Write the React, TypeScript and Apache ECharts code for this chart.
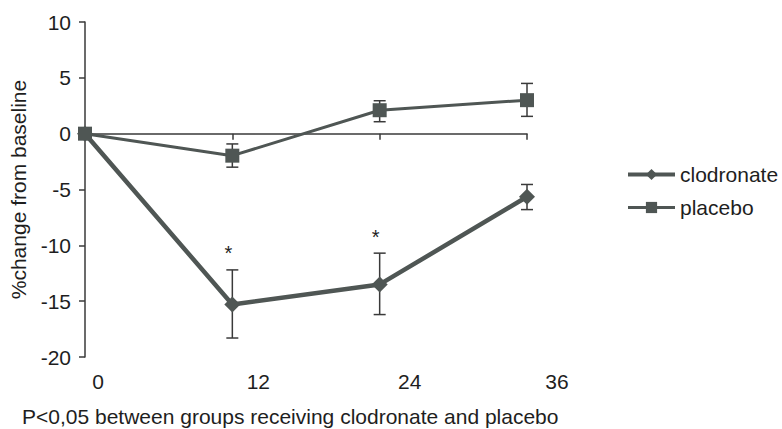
import React, { useEffect, useRef } from "react";
import * as echarts from "echarts";

const months = ["0", "12", "24", "36"];
const clodronate = [0, -15.3, -13.5, -5.65];
const clodronateHigh = [null, -12.2, -10.7, -4.55];
const clodronateLow = [null, -18.3, -16.2, -6.8];
const placebo = [0, -1.97, 2.1, 3.0];
const placeboHigh = [null, -0.92, 2.95, 4.5];
const placeboLow = [null, -3.0, 1.07, 1.55];
const asterisks = [
  [1, -10.4],
  [2, -8.95],
];
const yTicks = { min: -20, max: 10, interval: 5 };
const footnote = "P<0,05 between groups receiving clodronate and placebo";
const labelShift = [13, 26, 30, 30];

const MARK = "#4f5654";
const AXIS = "#3a3a3a";
const TEXT = "#1e1e1e";
const FONT = "Liberation Sans, Arial, sans-serif";

function errData(hi: (number | null)[], lo: (number | null)[]) {
  const out: number[][] = [];
  hi.forEach((h, i) => {
    const l = lo[i];
    if (h != null && l != null) out.push([i, l, h]);
  });
  return out;
}

function errRender(params: any, api: any) {
  const i = api.value(0);
  const lo = api.coord([i, api.value(1)]);
  const hi = api.coord([i, api.value(2)]);
  const hw = 6;
  const style = { stroke: AXIS, lineWidth: 1.5, fill: "none" };
  return {
    type: "group",
    children: [
      { type: "line", shape: { x1: hi[0], y1: hi[1], x2: lo[0], y2: lo[1] }, style },
      { type: "line", shape: { x1: hi[0] - hw, y1: hi[1], x2: hi[0] + hw, y2: hi[1] }, style },
      { type: "line", shape: { x1: lo[0] - hw, y1: lo[1], x2: lo[0] + hw, y2: lo[1] }, style },
    ],
  };
}

function starRender(params: any, api: any) {
  const p = api.coord([api.value(0), api.value(1)]);
  return {
    type: "text",
    x: p[0] - 4,
    y: p[1] + 3,
    style: {
      text: "*",
      fill: TEXT,
      font: `20px ${FONT}`,
      textAlign: "center",
      textVerticalAlign: "middle",
    },
  };
}

export default function App() {
  const ref = useRef<HTMLDivElement>(null);
  useEffect(() => {
    if (!ref.current) return;
    const chart = echarts.init(ref.current, undefined, { renderer: "svg" });
    const rich: any = {};
    labelShift.forEach((s, i) => {
      rich["l" + i] = {
        fontSize: 21,
        fontFamily: FONT,
        color: TEXT,
        padding: [0, 0, 0, s * 2],
      };
    });
    chart.setOption({
      animation: false,
      textStyle: { fontFamily: FONT },
      title: {
        text: footnote,
        left: 22,
        top: 405,
        padding: 0,
        textStyle: { fontSize: 21, fontWeight: "normal", color: TEXT, fontFamily: FONT, lineHeight: 22 },
      },
      legend: {
        orient: "vertical",
        left: 626,
        top: 164,
        padding: 0,
        itemWidth: 47,
        itemHeight: 14,
        itemGap: 12,
        textStyle: { fontSize: 21, color: TEXT, fontFamily: FONT },
        data: [
          { name: "clodronate", lineStyle: { width: 4, color: MARK }, itemStyle: { color: MARK } },
          { name: "placebo", lineStyle: { width: 3, color: MARK }, itemStyle: { color: MARK } },
        ],
      },
      grid: { left: 85, right: 255, top: 22, bottom: 72, outerBoundsMode: "none", containLabel: false },
      xAxis: [
        {
          type: "category",
          data: months,
          boundaryGap: false,
          axisLine: { onZero: true, lineStyle: { color: AXIS, width: 1.5 } },
          axisTick: { show: true, length: 6, lineStyle: { color: AXIS, width: 1.5 } },
          axisLabel: { show: false },
          splitLine: { show: false },
        },
        {
          type: "category",
          data: months,
          boundaryGap: false,
          position: "bottom",
          axisLine: { show: false, onZero: false },
          axisTick: { show: false },
          axisLabel: {
            margin: 14,
            formatter: (v: string, i: number) => `{l${i}|${v}}`,
            rich,
          },
          splitLine: { show: false },
        },
      ],
      yAxis: {
        type: "value",
        min: yTicks.min,
        max: yTicks.max,
        interval: yTicks.interval,
        name: "%change from baseline",
        nameLocation: "middle",
        nameRotate: 90,
        nameGap: 56,
        nameTextStyle: { fontSize: 21, color: TEXT, fontFamily: FONT },
        axisLine: { show: true, lineStyle: { color: AXIS, width: 1.5 } },
        axisTick: { show: true, length: 6, lineStyle: { color: AXIS, width: 1.5 } },
        axisLabel: { fontSize: 21, color: TEXT, margin: 14, fontFamily: FONT },
        splitLine: { show: false },
      },
      series: [
        {
          type: "custom",
          name: "clodErr",
          renderItem: errRender,
          data: errData(clodronateHigh, clodronateLow),
          z: 1,
          silent: true,
        },
        {
          type: "custom",
          name: "placErr",
          renderItem: errRender,
          data: errData(placeboHigh, placeboLow),
          z: 1,
          silent: true,
        },
        {
          type: "line",
          name: "clodronate",
          data: clodronate,
          symbol: "diamond",
          symbolSize: 16,
          showAllSymbol: true,
          lineStyle: { color: MARK, width: 4.5 },
          itemStyle: { color: MARK },
          z: 3,
        },
        {
          type: "line",
          name: "placebo",
          data: placebo,
          symbol: "rect",
          symbolSize: 14,
          showAllSymbol: true,
          lineStyle: { color: MARK, width: 3 },
          itemStyle: { color: MARK },
          z: 4,
        },
        {
          type: "custom",
          name: "stars",
          renderItem: starRender,
          data: asterisks,
          z: 5,
          silent: true,
        },
      ],
    });
    return () => chart.dispose();
  }, []);
  return <div ref={ref} style={{ width: 782, height: 429, position: "absolute", left: 0, top: 0 }} />;
}
